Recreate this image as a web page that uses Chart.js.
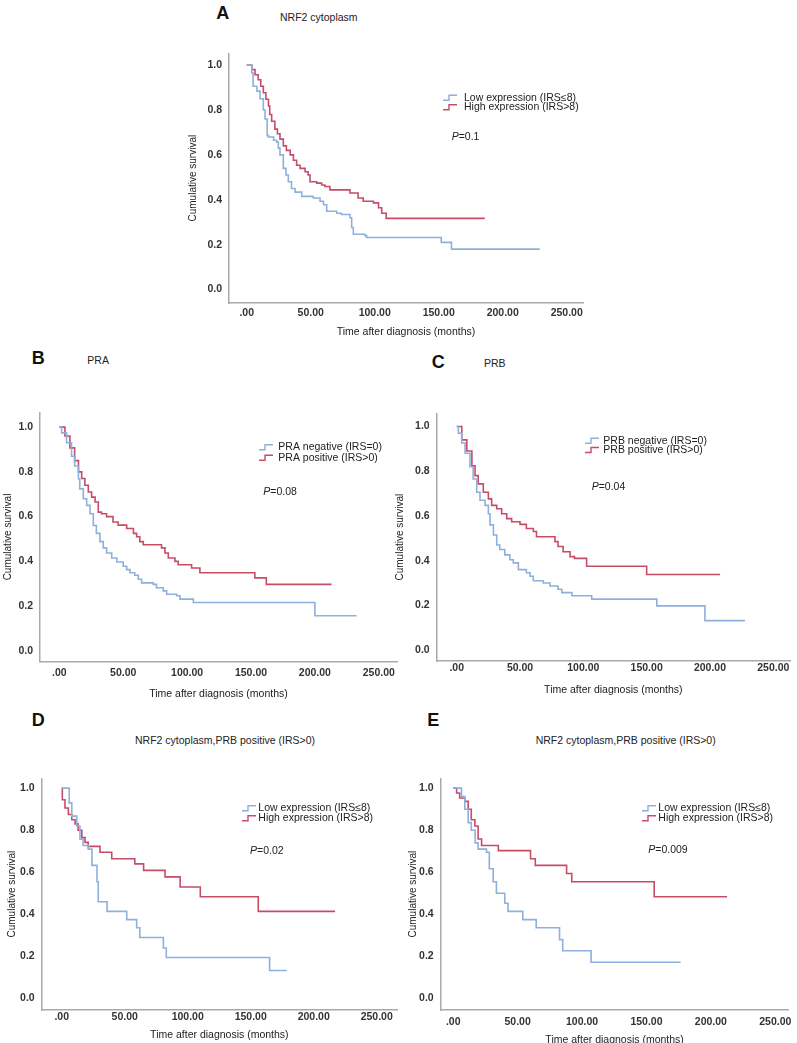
<!DOCTYPE html>
<html>
<head>
<meta charset="utf-8">
<script src="https://cdn.jsdelivr.net/npm/chart.js@4.4.1/dist/chart.umd.min.js"></script>
<style>
  body { margin: 0; width: 797px; height: 1043px; position: relative; overflow: hidden; background: #fff;
         font-family: "Liberation Sans", Arial, sans-serif; }
  canvas { position: absolute; }
  .letter { position: absolute; font-weight: bold; font-size: 18px; color: #111; transform: translate(-50%, -50%); }
  .ptitle { position: absolute; font-size: 10.5px; color: #222; transform: translateY(-50%); white-space: nowrap; }
</style>
</head>
<body>
<script>
// shared axis ticks
const xTicks = [0, 50, 100, 150, 200, 250];
const yTicks = [0, 0.2, 0.4, 0.6, 0.8, 1.0];

// A - NRF2 cytoplasm
const aLowTime  = [0, 4, 5, 8, 10.4, 13, 14.3, 16, 17, 21, 23.4, 24.7, 26, 28.6, 30.7, 32.5, 35, 37.8, 43, 52, 57.3, 60, 62.5, 70.3, 74, 80.7, 82, 83.3, 92.4, 93.7, 152, 160, 229];
const aLowSurv  = [1, 0.965, 0.906, 0.884, 0.85, 0.80, 0.76, 0.686, 0.68, 0.665, 0.657, 0.63, 0.60, 0.54, 0.51, 0.48, 0.45, 0.434, 0.415, 0.408, 0.393, 0.378, 0.349, 0.34, 0.334, 0.32, 0.276, 0.246, 0.24, 0.232, 0.21, 0.18, 0.18];
const aHighTime = [0, 4, 6.5, 9, 11, 13, 15, 17, 18, 19.5, 22, 24, 26, 28.6, 31, 34, 36.5, 39, 41.7, 45.6, 48, 49.5, 54.7, 58.6, 61, 65, 80.7, 87, 91, 99, 103, 105.5, 109, 186];
const aHighSurv = [1, 0.98, 0.957, 0.935, 0.906, 0.877, 0.848, 0.818, 0.78, 0.75, 0.715, 0.694, 0.67, 0.64, 0.62, 0.60, 0.576, 0.554, 0.54, 0.525, 0.51, 0.48, 0.474, 0.466, 0.459, 0.444, 0.43, 0.408, 0.393, 0.386, 0.364, 0.34, 0.317, 0.317];

// B - PRA
const bNegTime = [0, 1.8, 5.7, 9.6, 12, 15, 16, 18.8, 21.4, 24, 26.6, 29, 31.8, 34.4, 37, 41, 45, 50, 52.7, 55.3, 59, 61.8, 64.4, 73.5, 76, 81.4, 84, 91.8, 94.4, 104.9, 200, 232.6];
const bNegSurv = [1, 0.974, 0.93, 0.87, 0.826, 0.768, 0.724, 0.68, 0.65, 0.613, 0.56, 0.525, 0.488, 0.46, 0.437, 0.415, 0.397, 0.378, 0.363, 0.349, 0.338, 0.32, 0.304, 0.297, 0.282, 0.268, 0.253, 0.246, 0.231, 0.216, 0.157, 0.157];
const bPosTime = [0, 4.4, 8.3, 12, 15, 17.5, 20, 22.7, 25.3, 28, 30.5, 33, 37, 42, 46, 52.7, 58, 60.5, 63, 65.7, 80, 82.7, 85.3, 90.5, 93, 103.5, 110, 153, 162, 213];
const bPosSurv = [1, 0.96, 0.907, 0.85, 0.8, 0.77, 0.74, 0.71, 0.687, 0.665, 0.62, 0.613, 0.6, 0.576, 0.562, 0.547, 0.525, 0.51, 0.488, 0.474, 0.46, 0.437, 0.415, 0.4, 0.385, 0.37, 0.349, 0.326, 0.297, 0.297];

// C - PRB
const cNegTime = [0, 1.3, 4, 6.6, 10.5, 13, 15.8, 18.4, 22.4, 25, 26.3, 29, 31.6, 34, 38, 42, 44.7, 48.7, 55, 58, 60.5, 68.4, 73.7, 80, 83, 91, 106.6, 158, 196, 227.6];
const cNegSurv = [1, 0.97, 0.926, 0.88, 0.82, 0.765, 0.706, 0.67, 0.647, 0.61, 0.56, 0.515, 0.47, 0.45, 0.426, 0.404, 0.39, 0.36, 0.346, 0.33, 0.31, 0.3, 0.287, 0.272, 0.257, 0.243, 0.228, 0.198, 0.132, 0.132];
const cPosTime = [0, 4, 8, 12, 14.5, 17, 21, 25, 27.6, 31.6, 35.5, 39.5, 43.4, 50, 55, 60.5, 63, 77.6, 80, 84, 89.5, 93, 102.6, 150, 208];
const cPosSurv = [1, 0.94, 0.89, 0.824, 0.78, 0.743, 0.706, 0.676, 0.647, 0.632, 0.61, 0.588, 0.574, 0.562, 0.544, 0.53, 0.507, 0.485, 0.463, 0.44, 0.418, 0.41, 0.375, 0.338, 0.338];

// D - NRF2 cytoplasm, PRB positive
const dLowTime  = [0, 6, 8, 12, 14.5, 17, 21, 24, 28, 29, 36, 51.6, 59.5, 62, 80.7, 83, 165, 178.6];
const dLowSurv  = [1, 0.93, 0.867, 0.82, 0.757, 0.727, 0.71, 0.633, 0.555, 0.46, 0.414, 0.375, 0.336, 0.29, 0.24, 0.195, 0.133, 0.133];
const dHighTime = [0, 0.5, 2.6, 5.3, 8, 10.6, 13, 16, 18.5, 21, 30.4, 39.7, 58, 65, 82, 94, 110, 156, 217];
const dHighSurv = [1, 0.945, 0.906, 0.875, 0.85, 0.83, 0.8, 0.765, 0.742, 0.723, 0.695, 0.664, 0.64, 0.609, 0.578, 0.53, 0.484, 0.414, 0.414];

// E - NRF2 cytoplasm, PRB positive
const eLowTime  = [0, 6.4, 9, 11.6, 14, 17, 19.3, 25.8, 28, 31, 33.5, 40, 42.5, 54, 64.4, 82.5, 85, 107, 176.5];
const eLowSurv  = [1, 0.96, 0.9, 0.836, 0.8, 0.74, 0.71, 0.695, 0.617, 0.555, 0.5, 0.453, 0.414, 0.375, 0.336, 0.28, 0.227, 0.172, 0.172];
const eHighTime = [0, 2.6, 5, 9, 11.6, 14, 16.8, 19.3, 22, 35, 60, 63.7, 88, 92, 156, 212.6];
const eHighSurv = [1, 0.977, 0.953, 0.937, 0.9, 0.85, 0.82, 0.758, 0.727, 0.703, 0.664, 0.633, 0.594, 0.555, 0.484, 0.484];

const exprLabels = ['Low expression (IRS\u22648)', 'High expression (IRS>8)'];
const praLabels = ['PRA negative (IRS=0)', 'PRA positive (IRS>0)'];
const prbLabels = ['PRB negative (IRS=0)', 'PRB positive (IRS>0)'];
const colors = ['#8db0dd', '#c64c68'];

// page positions of each panel (plot box, axis anchors, text spots)
const layoutA = { l: 229, t: 50, r: 583, b: 303, x0: 246.7, x250: 566.7, y1: 62, y0: 289.3,
  yTitleX: 193, xTitleY: 332, tickY: 313, letter: [222.7, 13.3], titleX: 280, titleY: 16.7,
  iconX: 443, textX: 464, rowY: [97.7, 107.3], pX: 451.7, pY: 136.7 };
const layoutB = { l: 40, t: 409, r: 397, b: 661.7, x0: 59.3, x250: 378.8, y1: 424, y0: 650.7,
  yTitleX: 8, xTitleY: 693.3, tickY: 673.3, letter: [38.3, 358.3], titleX: 87.3, titleY: 360,
  iconX: 259, textX: 278.3, rowY: [447.3, 457.7], pX: 263.3, pY: 491.7 };
const layoutC = { l: 436.7, t: 410, r: 790, b: 661, x0: 456.7, x250: 773.3, y1: 423.3, y0: 650,
  yTitleX: 400, xTitleY: 690, tickY: 668.3, letter: [438.3, 361.7], titleX: 484, titleY: 363.3,
  iconX: 585, textX: 603.3, rowY: [440.7, 450], pX: 591.7, pY: 486.7 };
const layoutD = { l: 41.7, t: 775, r: 397, b: 1010, x0: 61.7, x250: 376.7, y1: 785, y0: 998.3,
  yTitleX: 12.7, xTitleY: 1035, tickY: 1016.7, letter: [38.3, 720], titleX: 135, titleY: 740,
  iconX: 242, textX: 258.3, rowY: [808.3, 818.3], pX: 250, pY: 851 };
const layoutE = { l: 440.7, t: 775, r: 790, b: 1010, x0: 453.3, x250: 776.7, y1: 785, y0: 998.3,
  yTitleX: 413.3, xTitleY: 1040, tickY: 1021.7, letter: [433.3, 720], titleX: 535.7, titleY: 740,
  iconX: 642, textX: 658.3, rowY: [808.3, 818.3], pX: 648.3, pY: 850 };

const FONT = '"Liberation Sans", Arial, sans-serif';

function addText(cls, text, x, y) {
  const d = document.createElement('div');
  d.className = cls;
  d.textContent = text;
  d.style.left = x + 'px';
  d.style.top = y + 'px';
  document.body.appendChild(d);
}

function buildPanel(L, letter, title, curves, labels, pValue) {
  addText('letter', letter, L.letter[0], L.letter[1]);
  addText('ptitle', title, L.titleX, L.titleY);

  const CL = Math.round(L.yTitleX - 8);
  const CT = Math.round(L.t - 10);
  const CR = Math.min(L.r + 10, 797);
  const CB = Math.round(L.xTitleY + 9.3);
  const W = Math.round(CR - CL), H = CB - CT;

  const canvas = document.createElement('canvas');
  canvas.width = W;
  canvas.height = H;
  canvas.style.left = CL + 'px';
  canvas.style.top = CT + 'px';
  document.body.appendChild(canvas);

  const kx = (L.x250 - L.x0) / 250;
  const ky = L.y0 - L.y1;

  // legend + P value drawn inside the plot
  const overlay = {
    id: 'kmOverlay',
    afterDraw(chart) {
      const ctx = chart.ctx;
      ctx.save();
      ctx.textBaseline = 'middle';
      labels.forEach((txt, i) => {
        const y = L.rowY[i] - CT;
        const x = L.iconX - CL;
        ctx.strokeStyle = colors[i];
        ctx.lineWidth = 1.4;
        ctx.beginPath();
        ctx.moveTo(x, y + 2.5);
        ctx.lineTo(x + 6, y + 2.5);
        ctx.lineTo(x + 6, y - 2.5);
        ctx.lineTo(x + 14, y - 2.5);
        ctx.stroke();
        ctx.fillStyle = '#222';
        ctx.font = '10.5px ' + FONT;
        ctx.fillText(txt, L.textX - CL, y);
      });
      const px = L.pX - CL, py = L.pY - CT;
      ctx.font = 'italic 10.5px ' + FONT;
      ctx.fillText('P', px, py);
      const w = ctx.measureText('P').width;
      ctx.font = '10.5px ' + FONT;
      ctx.fillText('=' + pValue, px + w, py);
      ctx.restore();
    }
  };

  new Chart(canvas, {
    type: 'line',
    data: {
      datasets: curves.map((c, i) => ({
        label: labels[i],
        data: c[0].map((t, j) => ({ x: t, y: c[1][j] })),
        borderColor: colors[i],
        borderWidth: 1.6,
        stepped: true,
        pointRadius: 0,
        fill: false
      }))
    },
    options: {
      responsive: false,
      animation: false,
      layout: { padding: { top: L.t - CT, right: W - (L.r - CL), left: 0, bottom: 0 } },
      plugins: { legend: { display: false }, tooltip: { enabled: false } },
      scales: {
        x: {
          type: 'linear',
          min: (L.l - L.x0) / kx,
          max: (L.r - L.x0) / kx,
          grid: { display: false, drawTicks: false },
          border: { color: '#a9a9a9', width: 1.5 },
          afterBuildTicks: sc => { sc.ticks = xTicks.map(v => ({ value: v })); },
          afterFit: sc => { sc.height = CB - L.b; },
          ticks: {
            padding: L.tickY - L.b - 6.3,
            color: '#333',
            font: { family: FONT, size: 10.5, weight: 'bold' },
            maxRotation: 0,
            autoSkip: false,
            callback: v => v === 0 ? '.00' : v.toFixed(2)
          },
          title: { display: true, text: 'Time after diagnosis (months)', color: '#222',
                   font: { family: FONT, size: 10.5 }, padding: { top: 0, bottom: 3 } }
        },
        y: {
          min: -(L.b - L.y0) / ky,
          max: 1 + (L.y1 - L.t) / ky,
          grid: { display: false, drawTicks: false },
          border: { color: '#a9a9a9', width: 1.5 },
          afterBuildTicks: sc => { sc.ticks = yTicks.map(v => ({ value: v })); },
          afterFit: sc => { sc.width = L.l - CL; },
          ticks: {
            padding: 7,
            color: '#333',
            font: { family: FONT, size: 10.5, weight: 'bold' },
            callback: v => v.toFixed(1)
          },
          title: { display: true, text: 'Cumulative survival', color: '#222',
                   font: { family: FONT, size: 10 }, padding: { top: L.yTitleX - CL - 6, bottom: 0 } }
        }
      }
    },
    plugins: [overlay]
  });
}

buildPanel(layoutA, 'A', 'NRF2 cytoplasm', [[aLowTime, aLowSurv], [aHighTime, aHighSurv]], exprLabels, '0.1');
buildPanel(layoutB, 'B', 'PRA', [[bNegTime, bNegSurv], [bPosTime, bPosSurv]], praLabels, '0.08');
buildPanel(layoutC, 'C', 'PRB', [[cNegTime, cNegSurv], [cPosTime, cPosSurv]], prbLabels, '0.04');
buildPanel(layoutD, 'D', 'NRF2 cytoplasm,PRB positive (IRS>0)', [[dLowTime, dLowSurv], [dHighTime, dHighSurv]], exprLabels, '0.02');
buildPanel(layoutE, 'E', 'NRF2 cytoplasm,PRB positive (IRS>0)', [[eLowTime, eLowSurv], [eHighTime, eHighSurv]], exprLabels, '0.009');
</script>
</body>
</html>
